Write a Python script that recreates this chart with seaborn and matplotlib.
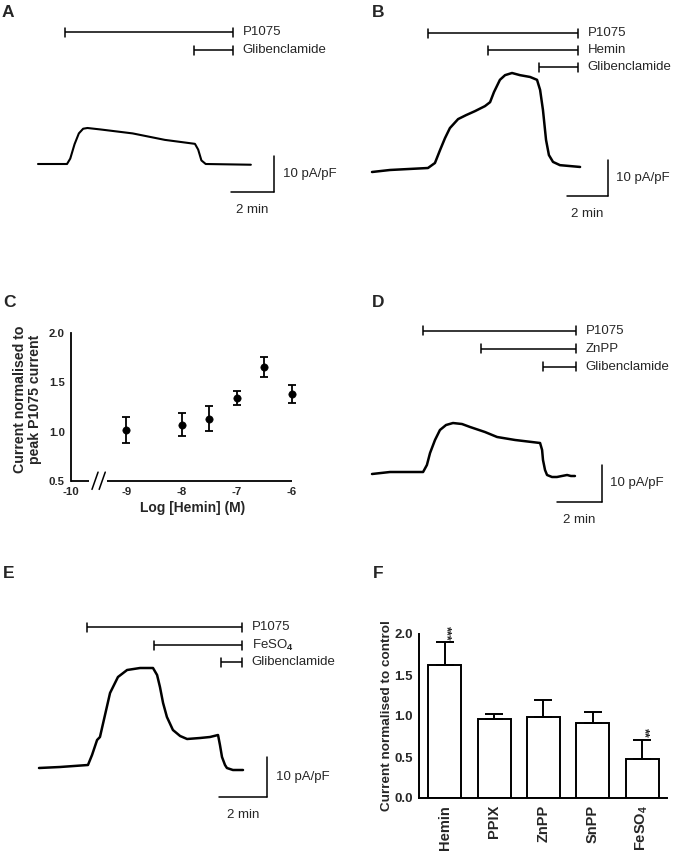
import numpy as np
import pandas as pd
import matplotlib
matplotlib.use("Agg")
import matplotlib.pyplot as plt
import seaborn as sns

# ---------------- data ----------------
# Panel A: P1075 current trace (time in min, current in pA/pF)
trace_a_t = [0, 1.35, 1.5, 1.7, 1.9, 2.1, 2.3, 2.9, 4.4, 5.9, 7.3, 7.45, 7.6, 7.8, 9.9]
trace_a_i = [0, 0, 1.5, 5.5, 8.5, 9.8, 10.0, 9.6, 8.5, 6.7, 5.6, 4.0, 1.0, 0, -0.2]
drugs_a = ["P1075", "Glibenclamide"]
drugs_a_start = [1.26, 7.26]
drugs_a_end = [9.07, 9.07]

# Panel B: P1075 + Hemin
trace_b_t = [0, 0.88, 2.73, 3.07, 3.32, 3.56, 3.80, 4.20, 4.59, 5.02, 5.51, 5.76, 5.95,
             6.24, 6.49, 6.83, 7.22, 7.71, 8.05, 8.20, 8.34, 8.49, 8.63, 8.83, 9.17, 10.15]
trace_b_i = [0, 0.56, 1.11, 2.5, 6.1, 9.4, 12.2, 14.7, 15.8, 16.9, 18.3, 19.4, 22.2,
             25.6, 26.9, 27.5, 26.9, 26.4, 25.6, 22.8, 17.2, 8.9, 4.7, 2.8, 1.9, 1.4]
drugs_b = ["P1075", "Hemin", "Glibenclamide"]
drugs_b_start = [2.73, 5.66, 8.15]
drugs_b_end = [10.05, 10.05, 10.05]

# Panel C: concentration-response to hemin
hemin_log = [-9, -8, -7.5, -7, -6.5, -6]
hemin_resp = [1.02, 1.07, 1.13, 1.34, 1.655, 1.38]
hemin_err = [0.13, 0.115, 0.127, 0.071, 0.105, 0.09]
c_xticks = [-10, -9, -8, -7, -6]
c_yticks = [0.5, 1.0, 1.5, 2.0]

# Panel D: P1075 + ZnPP
trace_d_t = [0, 0.8, 2.27, 2.44, 2.58, 2.8, 3.02, 3.29, 3.6, 4.0, 4.36, 5.02, 5.56, 6.36,
             7.47, 7.56, 7.6, 7.69, 7.78, 8.0, 8.22, 8.44, 8.67, 8.84, 9.02]
trace_d_i = [0, 0.54, 0.54, 2.43, 5.68, 9.19, 11.89, 13.24, 13.78, 13.51, 12.70, 11.35, 10.0,
             9.19, 8.38, 6.49, 3.78, 1.08, -0.27, -0.81, -0.81, -0.54, -0.27, -0.54, -0.54]
drugs_d = ["P1075", "ZnPP", "Glibenclamide"]
drugs_d_start = [2.27, 4.84, 7.6]
drugs_d_end = [9.07, 9.07, 9.07]

# Panel E: P1075 + FeSO4
trace_e_t = [0, 0.875, 2.04, 2.21, 2.42, 2.54, 2.75, 2.96, 3.29, 3.67, 4.21, 4.75, 4.92, 5.04,
             5.17, 5.33, 5.58, 5.88, 6.17, 6.71, 7.125, 7.46, 7.54, 7.625, 7.75, 7.83, 8.08, 8.5]
trace_e_i = [0, 0.25, 0.75, 3.25, 7.0, 7.75, 13.25, 18.75, 22.75, 24.5, 25, 25, 23.25, 20.25,
             16.25, 12.75, 9.5, 8.0, 7.25, 7.5, 7.75, 8.25, 5.75, 2.75, 0.75, 0, -0.5, -0.5]
drugs_e = ["P1075", r"FeSO$_\mathbf{4}$", "Glibenclamide"]
drugs_e_start = [2.0, 4.79, 7.58]
drugs_e_end = [8.46, 8.46, 8.46]

# Panel F: bar chart
f_cats = ["Hemin", "PPIX", "ZnPP", "SnPP", r"$\mathbf{FeSO_4}$"]
f_vals = [1.62, 0.96, 0.99, 0.92, 0.48]
f_err = [0.28, 0.07, 0.21, 0.125, 0.23]
f_sig = ["***", "", "", "", "**"]
f_yticks = [0.0, 0.5, 1.0, 1.5, 2.0]

# ---------------- style ----------------
sns.set_style("white")
plt.rcParams["font.family"] = ["Liberation Sans", "DejaVu Sans"]
plt.rcParams["mathtext.fontset"] = "custom"
plt.rcParams["mathtext.rm"] = "Liberation Sans"
plt.rcParams["mathtext.bf"] = "Liberation Sans:bold"
plt.rcParams["mathtext.it"] = "Liberation Sans:italic"
plt.rcParams["axes.unicode_minus"] = False

W, H = 677, 852
fig = plt.figure(figsize=(W / 100, H / 100), dpi=100)
fig.patch.set_facecolor("white")

LABEL_FS = 9.5
LW_BAR = 1.1


def trace_axes(box, origin, ppm, ppa):
    X0, Y0, X1, Y1 = box
    xo, yo = origin
    ax = fig.add_axes([X0 / W, 1 - Y1 / H, (X1 - X0) / W, (Y1 - Y0) / H])
    ax.set_xlim((X0 - xo) / ppm, (X1 - xo) / ppm)
    ax.set_ylim((yo - Y1) / ppa, (yo - Y0) / ppa)
    ax.axis("off")
    return ax


def draw_trace_panel(box, origin, ppm, ppa, t, i, drugs, starts, ends, rows_px, sb_px, lw=1.6):
    ax = trace_axes(box, origin, ppm, ppa)
    xo, yo = origin
    sns.lineplot(x=t, y=i, ax=ax, color="black", linewidth=lw, estimator=None, sort=False)
    capw = 4.5 / ppa
    for name, s, e, rpx in zip(drugs, starts, ends, rows_px):
        y = (yo - rpx) / ppa
        ax.plot([s, e], [y, y], color="black", lw=LW_BAR, solid_capstyle="butt")
        ax.plot([s, s], [y - capw, y + capw], color="black", lw=LW_BAR)
        ax.plot([e, e], [y - capw, y + capw], color="black", lw=LW_BAR)
        ax.text(e + 9.5 / ppm, y, name, ha="left", va="center", fontsize=LABEL_FS)
    # scale bar
    sx = (sb_px[0] - xo) / ppm
    sy = (yo - sb_px[1]) / ppa
    ax.plot([sx, sx], [sy, sy + 10], color="black", lw=LW_BAR)
    ax.plot([sx - 2, sx], [sy, sy], color="black", lw=LW_BAR)
    ax.text(sx + 8.5 / ppm, sy + 5, "10 pA/pF", ha="left", va="center", fontsize=LABEL_FS)
    ax.text(sx - 1, sy - 18 / ppa, "2 min", ha="center", va="center", fontsize=LABEL_FS)
    return ax


# Panel A
draw_trace_panel((0, 0, 338, 260), (38, 164), 21.5, 3.6, trace_a_t, trace_a_i,
                 drugs_a, drugs_a_start, drugs_a_end, [32, 50], (274, 192), lw=1.5)
# Panel B
draw_trace_panel((338, 0, 677, 260), (372, 172), 20.5, 3.6, trace_b_t, trace_b_i,
                 drugs_b, drugs_b_start, drugs_b_end, [33, 50, 67], (608, 196), lw=1.8)
# Panel D
draw_trace_panel((338, 290, 677, 545), (372, 474), 22.5, 3.7, trace_d_t, trace_d_i,
                 drugs_d, drugs_d_start, drugs_d_end, [331, 349, 367], (602, 502), lw=1.8)
# Panel E
draw_trace_panel((0, 545, 352, 852), (39, 768), 24.0, 4.0, trace_e_t, trace_e_i,
                 drugs_e, drugs_e_start, drugs_e_end, [627, 645, 662], (267, 797), lw=1.8)

# ---------------- Panel C ----------------
axc = fig.add_axes([71 / W, 1 - 481 / H, 221 / W, 148 / H])
sns.scatterplot(x=hemin_log, y=hemin_resp, ax=axc, color="black", s=28,
                edgecolor="black", zorder=3, clip_on=False)
eb = axc.errorbar(hemin_log, hemin_resp, yerr=hemin_err, fmt="none", ecolor="black",
                  elinewidth=1.3, capsize=2.6, capthick=1.3)
for art in eb.get_children():
    art.set_clip_on(False)
axc.set_xlim(-10, -6)
axc.set_ylim(0.5, 2.0)
axc.set_xticks(c_xticks)
axc.set_xticklabels([str(v) for v in c_xticks])
axc.set_yticks(c_yticks)
axc.set_yticklabels([f"{v:.1f}" for v in c_yticks])
for sp in ["top", "right", "bottom"]:
    axc.spines[sp].set_visible(False)
axc.spines["left"].set_linewidth(1.3)
axc.spines["left"].set_color("black")
axc.tick_params(direction="out", length=3, width=1.2, color="black", labelsize=8.2, pad=1.5)
for lab in axc.get_xticklabels() + axc.get_yticklabels():
    lab.set_fontweight("bold")
# broken x axis
axc.plot([-10, -9.68], [0.5, 0.5], color="black", lw=1.3, clip_on=False, solid_capstyle="butt")
axc.plot([-9.35, -6], [0.5, 0.5], color="black", lw=1.3, clip_on=False, solid_capstyle="butt")
axc.plot([-9.62, -9.51], [0.415, 0.59], color="black", lw=1.1, clip_on=False)
axc.plot([-9.49, -9.38], [0.415, 0.59], color="black", lw=1.1, clip_on=False)
fig.text(193 / W, 1 - 512 / H, "Log [Hemin] (M)", ha="center", va="baseline",
         fontsize=10, fontweight="bold")
fig.text(27.5 / W, 1 - 399 / H, "Current normalised to\npeak P1075 current", rotation=90,
         ha="center", va="center", multialignment="center", fontsize=10.2,
         fontweight="bold", linespacing=1.05)

# ---------------- Panel F ----------------
axf = fig.add_axes([419 / W, 1 - 798 / H, 248 / W, 164 / H])
sns.barplot(x=f_cats, y=f_vals, ax=axf, color="white", edgecolor="black", linewidth=1.4,
            width=0.67, saturation=1, errorbar=None)
xpos = np.arange(len(f_cats))
ebf = axf.errorbar(xpos, f_vals, yerr=[np.zeros(len(f_vals)), f_err], fmt="none",
                   ecolor="black", elinewidth=1.4, capsize=6.5, capthick=1.4, zorder=1)
for art in ebf.get_children():
    art.set_clip_on(False)
for xp, v, e, s in zip(xpos, f_vals, f_err, f_sig):
    if s:
        axf.text(xp + 0.03, v + e + 0.02, s, rotation=270, ha="center", va="bottom",
                 fontsize=9, fontweight="bold")
axf.set_xlim(-0.52, 4.5)
axf.set_ylim(0, 2.0)
axf.set_yticks(f_yticks)
axf.set_yticklabels([f"{v:.1f}" for v in f_yticks])
for sp in ["top", "right"]:
    axf.spines[sp].set_visible(False)
for sp in ["left", "bottom"]:
    axf.spines[sp].set_linewidth(1.4)
    axf.spines[sp].set_color("black")
axf.tick_params(axis="y", direction="out", length=3, width=1.2, color="black",
                labelsize=9.5, pad=1.5)
axf.tick_params(axis="x", direction="out", length=3.5, width=1.2, color="black",
                labelsize=10.5, pad=1.5, labelrotation=90)
for lab in axf.get_xticklabels() + axf.get_yticklabels():
    lab.set_fontweight("bold")
axf.set_xlabel("")
axf.set_ylabel("")
fig.text(387 / W, 1 - 716 / H, "Current normalised to control", rotation=90,
         ha="center", va="center", fontsize=9.7, fontweight="bold")

# ---------------- panel letters ----------------
for letter, x, yb in [("A", 2, 17), ("B", 372, 17), ("C", 3, 307),
                      ("D", 372, 307), ("E", 3, 578), ("F", 373, 578)]:
    fig.text(x / W, 1 - yb / H, letter, ha="left", va="baseline",
             fontsize=12.5, fontweight="bold")

fig.savefig("out.png", dpi=100, facecolor="white")
